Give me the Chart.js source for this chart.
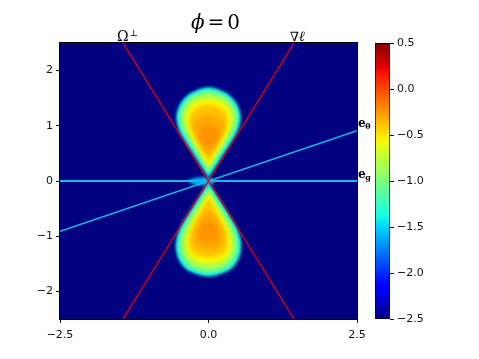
<!DOCTYPE html>
<html>
<head>
<meta charset="utf-8">
<script src="https://cdn.jsdelivr.net/npm/chart.js@4"></script>
<style>
  body { margin: 0; background: #fff; }
  #wrap { position: relative; width: 479px; height: 359px; }
  #main { position: absolute; left: 0; top: 0; }
  #cbar { position: absolute; left: 370px; top: 0; }
</style>
</head>
<body>
<div id="wrap">
  <canvas id="main" width="479" height="359"></canvas>
  <canvas id="cbar" width="109" height="359"></canvas>
</div>
<script>
const xTicks = [-2.5, 0, 2.5];
const yTicks = [-2, -1, 0, 1, 2];
const cbTicks = [-2.5, -2, -1.5, -1, -0.5, 0, 0.5];
const cbMin = -2.5;
const cbMax = 0.5;

// field value of each filled contour, outer -> inner
const levelValues = [-1.45, -1.15, -0.85, -0.55, -0.4, -0.31, -0.24];

// upper lobe contours
const upper0 = [[0,0.06],[0.1,0.22],[0.2,0.39],[0.3,0.56],[0.4,0.73],[0.48,0.88],[0.53,1.04],[0.54,1.18],[0.51,1.32],[0.43,1.47],[0.29,1.6],[0,1.7],[-0.29,1.6],[-0.43,1.47],[-0.51,1.32],[-0.54,1.18],[-0.53,1.04],[-0.48,0.88],[-0.4,0.73],[-0.3,0.56],[-0.2,0.39],[-0.1,0.22],[0,0.06]];
const upper1 = [[0,0.12],[0.1,0.29],[0.2,0.46],[0.3,0.63],[0.39,0.79],[0.46,0.93],[0.5,1.06],[0.51,1.18],[0.48,1.31],[0.4,1.45],[0.27,1.57],[0,1.66],[-0.27,1.57],[-0.4,1.45],[-0.48,1.31],[-0.51,1.18],[-0.5,1.06],[-0.46,0.93],[-0.39,0.79],[-0.3,0.63],[-0.2,0.46],[-0.1,0.29],[0,0.12]];
const upper2 = [[0,0.18],[0.1,0.36],[0.2,0.53],[0.3,0.7],[0.38,0.85],[0.44,1.0],[0.46,1.15],[0.43,1.3],[0.35,1.43],[0.23,1.53],[0,1.6],[-0.23,1.53],[-0.35,1.43],[-0.43,1.3],[-0.46,1.15],[-0.44,1.0],[-0.38,0.85],[-0.3,0.7],[-0.2,0.53],[-0.1,0.36],[0,0.18]];
const upper3 = [[0,0.26],[0.09,0.43],[0.18,0.6],[0.27,0.76],[0.34,0.92],[0.38,1.07],[0.38,1.2],[0.33,1.32],[0.22,1.43],[0,1.49],[-0.22,1.43],[-0.33,1.32],[-0.38,1.2],[-0.38,1.07],[-0.34,0.92],[-0.27,0.76],[-0.18,0.6],[-0.09,0.43],[0,0.26]];
const upper4 = [[0,0.36],[0.08,0.5],[0.16,0.65],[0.24,0.8],[0.3,0.95],[0.32,1.08],[0.3,1.2],[0.22,1.31],[0,1.38],[-0.22,1.31],[-0.3,1.2],[-0.32,1.08],[-0.3,0.95],[-0.24,0.8],[-0.16,0.65],[-0.08,0.5],[0,0.36]];
const upper5 = [[0,0.46],[0.1,0.6],[0.18,0.74],[0.24,0.89],[0.26,1.01],[0.22,1.11],[0.12,1.18],[0,1.2],[-0.12,1.18],[-0.22,1.11],[-0.26,1.01],[-0.24,0.89],[-0.18,0.74],[-0.1,0.6],[0,0.46]];
const upper6 = [[0,0.6],[0.1,0.68],[0.16,0.8],[0.15,0.92],[0.08,1.0],[0,1.02],[-0.08,1.0],[-0.15,0.92],[-0.16,0.8],[-0.1,0.68],[0,0.6]];

// lower lobe contours
const lower0 = [[0,-0.02],[0.1,-0.18],[0.2,-0.35],[0.3,-0.52],[0.4,-0.69],[0.48,-0.85],[0.53,-1.0],[0.55,-1.17],[0.53,-1.34],[0.46,-1.5],[0.33,-1.63],[0,-1.73],[-0.33,-1.63],[-0.46,-1.5],[-0.53,-1.34],[-0.55,-1.17],[-0.53,-1.0],[-0.48,-0.85],[-0.4,-0.69],[-0.3,-0.52],[-0.2,-0.35],[-0.1,-0.18],[0,-0.02]];
const lower1 = [[0,-0.08],[0.1,-0.25],[0.2,-0.42],[0.3,-0.59],[0.39,-0.75],[0.46,-0.9],[0.5,-1.03],[0.52,-1.17],[0.5,-1.33],[0.43,-1.48],[0.31,-1.6],[0,-1.69],[-0.31,-1.6],[-0.43,-1.48],[-0.5,-1.33],[-0.52,-1.17],[-0.5,-1.03],[-0.46,-0.9],[-0.39,-0.75],[-0.3,-0.59],[-0.2,-0.42],[-0.1,-0.25],[0,-0.08]];
const lower2 = [[0,-0.14],[0.1,-0.32],[0.2,-0.49],[0.3,-0.66],[0.38,-0.82],[0.44,-0.98],[0.46,-1.15],[0.44,-1.3],[0.37,-1.44],[0.25,-1.55],[0,-1.62],[-0.25,-1.55],[-0.37,-1.44],[-0.44,-1.3],[-0.46,-1.15],[-0.44,-0.98],[-0.38,-0.82],[-0.3,-0.66],[-0.2,-0.49],[-0.1,-0.32],[0,-0.14]];
const lower3 = [[0,-0.22],[0.09,-0.39],[0.18,-0.56],[0.27,-0.73],[0.34,-0.9],[0.38,-1.06],[0.38,-1.2],[0.34,-1.33],[0.24,-1.44],[0,-1.5],[-0.24,-1.44],[-0.34,-1.33],[-0.38,-1.2],[-0.38,-1.06],[-0.34,-0.9],[-0.27,-0.73],[-0.18,-0.56],[-0.09,-0.39],[0,-0.22]];
const lower4 = [[0,-0.32],[0.08,-0.46],[0.16,-0.62],[0.24,-0.78],[0.3,-0.94],[0.32,-1.08],[0.31,-1.21],[0.23,-1.32],[0,-1.39],[-0.23,-1.32],[-0.31,-1.21],[-0.32,-1.08],[-0.3,-0.94],[-0.24,-0.78],[-0.16,-0.62],[-0.08,-0.46],[0,-0.32]];
const lower5 = [[0,-0.5],[0.1,-0.62],[0.18,-0.76],[0.24,-0.92],[0.26,-1.05],[0.22,-1.16],[0.12,-1.23],[0,-1.25],[-0.12,-1.23],[-0.22,-1.16],[-0.26,-1.05],[-0.24,-0.92],[-0.18,-0.76],[-0.1,-0.62],[0,-0.5]];
const lower6 = [[0,-0.7],[0.1,-0.78],[0.16,-0.9],[0.15,-1.02],[0.08,-1.1],[0,-1.12],[-0.08,-1.1],[-0.15,-1.02],[-0.16,-0.9],[-0.1,-0.78],[0,-0.7]];

// small patch around the origin
const originBlob = [[-0.36,0],[-0.25,0.05],[-0.1,0.07],[0.05,0.05],[0.1,0],[0.05,-0.06],[-0.1,-0.08],[-0.25,-0.06],[-0.36,0]];
const originValue = -1.6;

// guide lines
const omegaPerp = [[-1.44, 2.5], [1.44, -2.5]];
const gradEll = [[1.44, 2.5], [-1.44, -2.5]];
const eG = [[-2.5, 0], [2.5, 0]];
const eTheta = [[-2.5, -0.91], [2.5, 0.91]];

// jet colormap
const jetR = [[0,0],[0.35,0],[0.66,1],[0.89,1],[1,0.5]];
const jetG = [[0,0],[0.125,0],[0.375,1],[0.64,1],[0.91,0],[1,0]];
const jetB = [[0,0.5],[0.11,1],[0.34,1],[0.65,0],[1,0]];
const jetStops = [0, 0.11, 0.125, 0.34, 0.35, 0.375, 0.64, 0.65, 0.66, 0.89, 0.91, 1];

function seg(s, t) {
    for (let i = 1; i < s.length; i++) {
        if (t <= s[i][0]) {
            const [t0, v0] = s[i - 1];
            const [t1, v1] = s[i];
            return v0 + (v1 - v0) * (t - t0) / (t1 - t0);
        }
    }
    return s[s.length - 1][1];
}
function jetT(t) {
    return 'rgb(' + Math.round(255 * seg(jetR, t)) + ',' + Math.round(255 * seg(jetG, t)) + ',' + Math.round(255 * seg(jetB, t)) + ')';
}
function jet(v) {
    return jetT(Math.min(1, Math.max(0, (v - cbMin) / (cbMax - cbMin))));
}
const fmt = (v, d) => v.toFixed(d).replace('-', '\u2212');
const toXY = a => a.map(p => ({ x: p[0], y: p[1] }));

const upper = [upper0, upper1, upper2, upper3, upper4, upper5, upper6];
const lower = [lower0, lower1, lower2, lower3, lower4, lower5, lower6];

const lineSet = (pts, color, width) => ({
    data: toXY(pts), borderColor: color, borderWidth: width, fill: false, tension: 0
});
const shapeSet = (pts, value) => ({
    data: toXY(pts), backgroundColor: jet(value), borderColor: 'rgba(0,0,0,0)', borderWidth: 0,
    fill: 'shape', tension: 0.35
});

// first entries are drawn last (on top)
const datasets = [
    lineSet(omegaPerp, 'rgb(235,0,0)', 1.3),
    lineSet(gradEll, 'rgb(235,0,0)', 1.3),
    lineSet(eG, '#10bde6', 2),
    lineSet(eTheta, '#10bde6', 1.5)
];
const nLines = datasets.length;
for (let i = levelValues.length - 1; i >= 0; i--) {
    datasets.push(shapeSet(upper[i], levelValues[i]));
    datasets.push(shapeSet(lower[i], levelValues[i]));
}
datasets.push(shapeSet(originBlob, originValue));

const fieldPlugin = {
    id: 'field',
    beforeDatasetsDraw(chart) {
        const { ctx, chartArea: a } = chart;
        ctx.fillStyle = jet(cbMin);
        ctx.fillRect(a.left, a.top, a.right - a.left, a.bottom - a.top);
        ctx.filter = 'blur(1.6px)';
    },
    afterDatasetDraw(chart, args) {
        if (args.index === nLines) chart.ctx.filter = 'none';
    },
    afterDatasetsDraw(chart) {
        chart.ctx.filter = 'none';
    },
    afterDraw(chart) {
        const { ctx, chartArea: a, scales: { x, y } } = chart;
        ctx.save();
        ctx.filter = 'none';
        ctx.strokeStyle = '#000';
        ctx.lineWidth = 1;
        ctx.strokeRect(a.left - 0.5, a.top - 0.5, a.right - a.left + 1, a.bottom - a.top + 1);

        ctx.fillStyle = '#000';
        ctx.textAlign = 'left';
        ctx.textBaseline = 'alphabetic';

        // title
        ctx.font = 'italic 20px "DejaVu Serif"';
        const wPhi = ctx.measureText('\u03d5').width;
        ctx.font = '20px "DejaVu Serif"';
        const wEq = ctx.measureText('=').width;
        const wZero = ctx.measureText('0').width;
        const gap = 3;
        let tx = (a.left + a.right) / 2 + 7 - (wPhi + wEq + wZero + 2 * gap) / 2;
        ctx.font = 'italic 20px "DejaVu Serif"';
        ctx.fillText('\u03d5', tx, 29);
        tx += wPhi + gap;
        ctx.font = '20px "DejaVu Serif"';
        ctx.fillText('=', tx, 29);
        tx += wEq + gap;
        ctx.fillText('0', tx, 29);

        // Omega-perp label
        let lx = x.getPixelForValue(omegaPerp[0][0]) - 6;
        ctx.font = '14px "DejaVu Serif"';
        ctx.fillText('\u03a9', lx, a.top - 2);
        lx += ctx.measureText('\u03a9').width + 1;
        ctx.font = '9px "DejaVu Serif"';
        ctx.fillText('\u22a5', lx, a.top - 7);

        // grad-ell label
        lx = x.getPixelForValue(gradEll[0][0]) - 4;
        ctx.font = '13px "DejaVu Serif"';
        ctx.fillText('\u2207', lx, a.top - 2);
        lx += ctx.measureText('\u2207').width;
        ctx.font = 'italic 14px "DejaVu Serif"';
        ctx.fillText('\u2113', lx, a.top - 2);

        // basis vector labels
        const drawE = (sub, yv) => {
            const bx = a.right + 1;
            const by = y.getPixelForValue(yv) - 3.5;
            ctx.font = 'bold 12px "DejaVu Serif"';
            ctx.fillText('e', bx, by);
            const we = ctx.measureText('e').width;
            ctx.font = 'bold 8px "DejaVu Serif"';
            ctx.fillText(sub, bx + we - 0.5, by + 2);
        };
        drawE('\u03b8', eTheta[1][1]);
        drawE('g', eG[1][1]);
        ctx.restore();
    }
};

const tickFont = { family: 'DejaVu Sans', size: 11 };

new Chart(document.getElementById('main'), {
    type: 'line',
    data: { datasets: datasets },
    options: {
        responsive: false,
        animation: false,
        devicePixelRatio: 1,
        layout: { padding: { top: 43, right: 122, bottom: 0, left: 0 } },
        elements: { point: { radius: 0 } },
        plugins: { legend: { display: false }, tooltip: { enabled: false } },
        scales: {
            x: {
                type: 'linear', min: -2.5, max: 2.5,
                afterBuildTicks: s => { s.ticks = xTicks.map(v => ({ value: v })); },
                afterFit: s => { s.height = 40; },
                grid: { drawOnChartArea: false, tickLength: 4, color: '#000' },
                border: { display: false },
                ticks: { font: tickFont, color: '#111', padding: 6, autoSkip: false, maxRotation: 0, callback: v => fmt(v, 1) }
            },
            y: {
                type: 'linear', min: -2.5, max: 2.5,
                afterBuildTicks: s => { s.ticks = yTicks.map(v => ({ value: v })); },
                afterFit: s => { s.width = 60; },
                grid: { drawOnChartArea: false, tickLength: 4, color: '#000' },
                border: { display: false },
                ticks: { font: tickFont, color: '#111', padding: 3, autoSkip: false, callback: v => fmt(v, 0) }
            }
        }
    },
    plugins: [fieldPlugin]
});

// colorbar
new Chart(document.getElementById('cbar'), {
    type: 'bar',
    data: {
        labels: [''],
        datasets: [{
            data: [[cbMin, cbMax]],
            backgroundColor: c => {
                const a = c.chart.chartArea;
                if (!a) return jet(cbMin);
                const g = c.chart.ctx.createLinearGradient(0, a.bottom, 0, a.top);
                jetStops.forEach(t => g.addColorStop(t, jetT(t)));
                return g;
            },
            borderColor: '#000',
            borderWidth: 1,
            borderSkipped: false,
            barPercentage: 1,
            categoryPercentage: 1
        }]
    },
    options: {
        responsive: false,
        animation: false,
        devicePixelRatio: 1,
        layout: { padding: { top: 43, right: 49, bottom: 40, left: 5 } },
        plugins: { legend: { display: false }, tooltip: { enabled: false } },
        scales: {
            x: { display: false },
            y: {
                position: 'right', min: cbMin, max: cbMax,
                afterBuildTicks: s => { s.ticks = cbTicks.map(v => ({ value: v })); },
                afterFit: s => { s.width = 40; },
                grid: { drawOnChartArea: false, tickLength: 4, color: '#000' },
                border: { display: false },
                ticks: { font: tickFont, color: '#111', padding: 3, autoSkip: false, callback: v => fmt(v, 1) }
            }
        }
    }
});
</script>
</body>
</html>
